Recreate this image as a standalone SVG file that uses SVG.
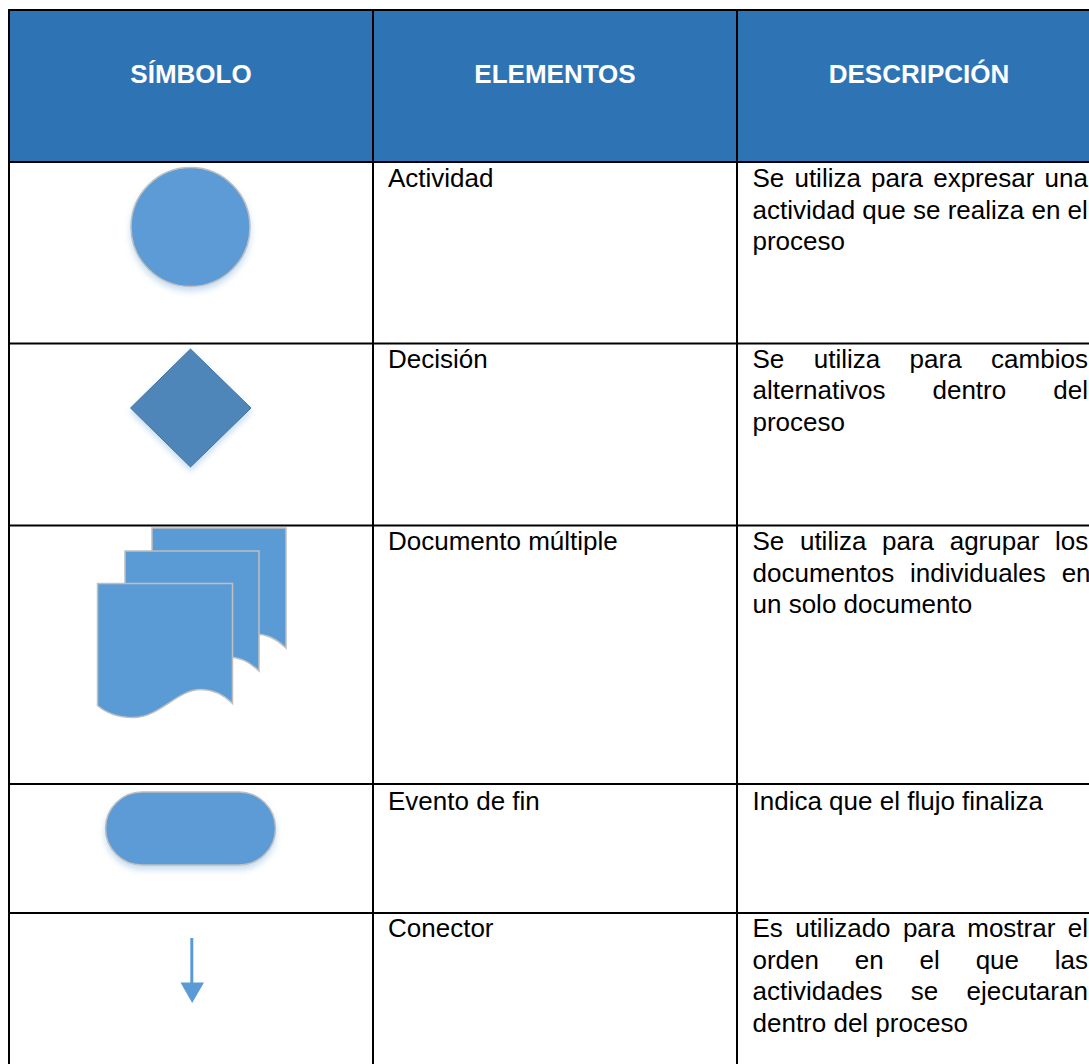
<svg xmlns="http://www.w3.org/2000/svg" width="1089" height="1064" viewBox="0 0 1089 1064">
<style>
.hdr{font-family:"Liberation Sans",Arial,sans-serif;font-weight:bold;font-size:26px;fill:#ffffff;text-anchor:middle}
.t{font-family:"Liberation Sans",Arial,sans-serif;font-size:26px;fill:#000000}
.grid{stroke:#000000;stroke-width:2;fill:none}
.shape{fill:#5B9BD5;stroke:#BFBFBF;stroke-width:1.5}
</style>
<defs>
<filter id="sh" x="-20%" y="-20%" width="140%" height="150%">
<feGaussianBlur in="SourceAlpha" stdDeviation="3"/>
<feOffset dy="4" result="b"/>
<feFlood flood-color="#5B9BD5" flood-opacity="0.35"/>
<feComposite in2="b" operator="in"/>
<feMerge><feMergeNode/><feMergeNode in="SourceGraphic"/></feMerge>
</filter>
</defs>
<rect x="0" y="0" width="1089" height="1064" fill="#ffffff"/>
<g id="header">
<rect x="9" y="10" width="1080" height="152" fill="#2E74B5"/>
<text class="hdr" x="191" y="82.5">SÍMBOLO</text>
<text class="hdr" x="555" y="82.5">ELEMENTOS</text>
<text class="hdr" x="919" y="82.5">DESCRIPCIÓN</text>
</g>
<g id="grid" class="grid">
<line x1="9" y1="10" x2="1089" y2="10"/>
<line x1="9" y1="9" x2="9" y2="1064"/>
<line x1="373" y1="10" x2="373" y2="1064"/>
<line x1="737" y1="10" x2="737" y2="1064"/>
<line x1="9" y1="162" x2="1089" y2="162"/>
<line x1="9" y1="343.5" x2="1089" y2="343.5"/>
<line x1="9" y1="525.5" x2="1089" y2="525.5"/>
<line x1="9" y1="784" x2="1089" y2="784"/>
<line x1="9" y1="913" x2="1089" y2="913"/>
</g>
<g id="actividad">
<circle class="shape" cx="190.5" cy="227" r="59.5" filter="url(#sh)"/>
<text class="t" x="388" y="187">Actividad</text>
<text class="t" x="752.5" y="187" word-spacing="2.9">Se utiliza para expresar una</text>
<text class="t" x="752.5" y="218.6">actividad que se realiza en el</text>
<text class="t" x="752.5" y="250.2">proceso</text>
</g>
<g id="decision">
<polygon points="190.5,349 251,408 190.5,467 130.5,408" fill="#4F86BA" stroke="#4472A0" stroke-width="1" filter="url(#sh)"/>
<text class="t" x="388" y="367.5">Decisión</text>
<text class="t" x="752.5" y="367.5" word-spacing="22.2">Se utiliza para cambios</text>
<text class="t" x="752.5" y="399.1" word-spacing="39.8">alternativos dentro del</text>
<text class="t" x="752.5" y="430.7">proceso</text>
</g>
<g id="documento-multiple">
<path class="shape" d="M152,528 H286 V648 C276,638 266,634 255,634 C232,634 214,662 188,662 C172,662 160,657 152,650 Z"/>
<path class="shape" d="M125,551 H259 V671 C249,661 239,657 228,657 C205,657 187,685 161,685 C145,685 133,680 125,673 Z"/>
<path class="shape" d="M97.5,583.5 H232.5 V703.5 C222.5,693.5 212.5,689.5 200.5,689.5 C177.5,689.5 159.5,717.5 133.5,717.5 C117.5,717.5 105.5,712.5 97.5,705.5 Z"/>
<text class="t" x="388" y="550">Documento múltiple</text>
<text class="t" x="752.5" y="550" word-spacing="8.4">Se utiliza para agrupar los</text>
<text class="t" x="752.5" y="581.6" word-spacing="8.6">documentos individuales en</text>
<text class="t" x="752.5" y="613.2">un solo documento</text>
</g>
<g id="evento-fin">
<rect class="shape" x="105.5" y="792" width="170" height="73" rx="36.5" ry="36.5" stroke-width="2" filter="url(#sh)"/>
<text class="t" x="388" y="810">Evento de fin</text>
<text class="t" x="752.5" y="810">Indica que el flujo finaliza</text>
</g>
<g id="conector">
<line x1="191.8" y1="938" x2="191.8" y2="985" stroke="#5B9BD5" stroke-width="3"/>
<polygon points="180.5,982.5 204,982.5 192.2,1003" fill="#5B9BD5"/>
<text class="t" x="388" y="937">Conector</text>
<text class="t" x="752.5" y="937" word-spacing="5.1">Es utilizado para mostrar el</text>
<text class="t" x="752.5" y="968.6" word-spacing="28.6">orden en el que las</text>
<text class="t" x="752.5" y="1000.2" word-spacing="21">actividades se ejecutaran</text>
<text class="t" x="752.5" y="1031.8">dentro del proceso</text>
</g>
<g id="connectors"/>
</svg>
